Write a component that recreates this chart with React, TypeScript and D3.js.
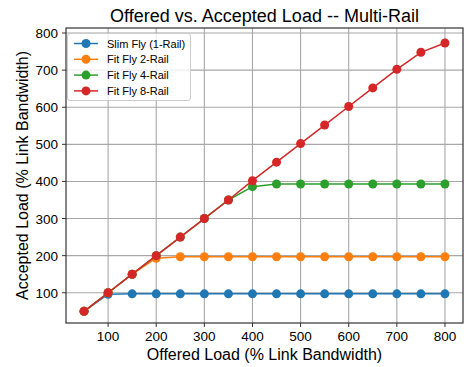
import React from 'react';
import * as d3 from 'd3';

// offered load (% link bandwidth)
const offered = [50, 100, 150, 200, 250, 300, 350, 400, 450, 500, 550, 600, 650, 700, 750, 800];

const slimFly1 = [50, 96, 97, 97, 97, 97, 97, 97, 97, 97, 97, 97, 97, 97, 97, 97];
const fitFly2 = [50, 100, 150, 193, 197, 197, 197, 197, 197, 197, 197, 197, 197, 197, 197, 197];
const fitFly4 = [50, 100, 150, 200, 250, 300, 350, 386, 393, 393, 393, 393, 393, 393, 393, 393];
const fitFly8 = [50, 100, 150, 200, 250, 300, 350, 402, 452, 502, 552, 602, 652, 702, 748, 773];

const seriesNames = ['Slim Fly (1-Rail)', 'Fit Fly 2-Rail', 'Fit Fly 4-Rail', 'Fit Fly 8-Rail'];
const seriesValues = [slimFly1, fitFly2, fitFly4, fitFly8];
const colors = ['#1f77b4', '#ff7f0e', '#2ca02c', '#d62728'];

const xTicks = [100, 200, 300, 400, 500, 600, 700, 800];
const yTicks = [100, 200, 300, 400, 500, 600, 700, 800];

const W = 464, H = 367;
const left = 66, right = 463, top = 28, bottom = 323;
const font = 'Liberation Sans, Arial, sans-serif';

export default function App() {
  const x = d3.scaleLinear().domain([12.5, 837.5]).range([left, right]);
  const y = d3.scaleLinear().domain([18.5, 813.5]).range([bottom, top]);

  const line = d3.line<[number, number]>()
    .x(d => x(d[0]))
    .y(d => y(d[1]));

  return (
    <svg width={W} height={H} style={{ position: 'absolute', left: 0, top: 0 }}>
      <rect width={W} height={H} fill="#fff" />
      {/* grid */}
      {xTicks.map(t => (
        <line key={'gx' + t} x1={x(t)} x2={x(t)} y1={top} y2={bottom} stroke="#a8a8a8" strokeWidth={1.1} />
      ))}
      {yTicks.map(t => (
        <line key={'gy' + t} x1={left} x2={right} y1={y(t)} y2={y(t)} stroke="#a8a8a8" strokeWidth={1.1} />
      ))}

      {/* series */}
      {seriesValues.map((vals, i) => {
        const pts = offered.map((o, j) => [o, vals[j]] as [number, number]);
        return (
          <g key={i}>
            <path d={line(pts) || ''} fill="none" stroke={colors[i]} strokeWidth={1.5} />
            {pts.map((p, j) => (
              <circle key={j} cx={x(p[0])} cy={y(p[1])} r={4.5} fill={colors[i]} />
            ))}
          </g>
        );
      })}

      {/* frame */}
      <rect x={left} y={top} width={right - left} height={bottom - top} fill="none" stroke="#333" strokeWidth={1.2} />

      {/* ticks */}
      {xTicks.map(t => (
        <g key={'tx' + t}>
          <line x1={x(t)} x2={x(t)} y1={bottom} y2={bottom + 4} stroke="#333" />
          <text x={x(t)} y={bottom + 18} textAnchor="middle" fontSize={13.5} fontFamily={font} fill="#000">{t}</text>
        </g>
      ))}
      {yTicks.map(t => (
        <g key={'ty' + t}>
          <line x1={left - 4} x2={left} y1={y(t)} y2={y(t)} stroke="#333" />
          <text x={left - 8} y={y(t) + 5} textAnchor="end" fontSize={13.5} fontFamily={font} fill="#000">{t}</text>
        </g>
      ))}

      {/* labels */}
      <text x={(left + right) / 2} y={22} textAnchor="middle" fontSize={18} fontFamily={font} fill="#000">
        Offered vs. Accepted Load -- Multi-Rail
      </text>
      <text x={(left + right) / 2} y={360} textAnchor="middle" fontSize={16} fontFamily={font} fill="#000">
        Offered Load (% Link Bandwidth)
      </text>
      <text transform={`translate(28,${(top + bottom) / 2}) rotate(-90)`} textAnchor="middle" fontSize={16} fontFamily={font} fill="#000">
        Accepted Load (% Link Bandwidth)
      </text>

      {/* legend */}
      <g>
        <rect x={67.5} y={33.5} width={123} height={67} rx={2.5} fill="#fff" fillOpacity={0.8} stroke="#ccc" />
        {seriesNames.map((n, i) => {
          const cy = 43.5 + i * 15.8;
          return (
            <g key={n}>
              <line x1={74} x2={98} y1={cy} y2={cy} stroke={colors[i]} strokeWidth={1.5} />
              <circle cx={86} cy={cy} r={4.5} fill={colors[i]} />
              <text x={107} y={cy + 4} fontSize={11} fontFamily={font} fill="#000">{n}</text>
            </g>
          );
        })}
      </g>
    </svg>
  );
}
